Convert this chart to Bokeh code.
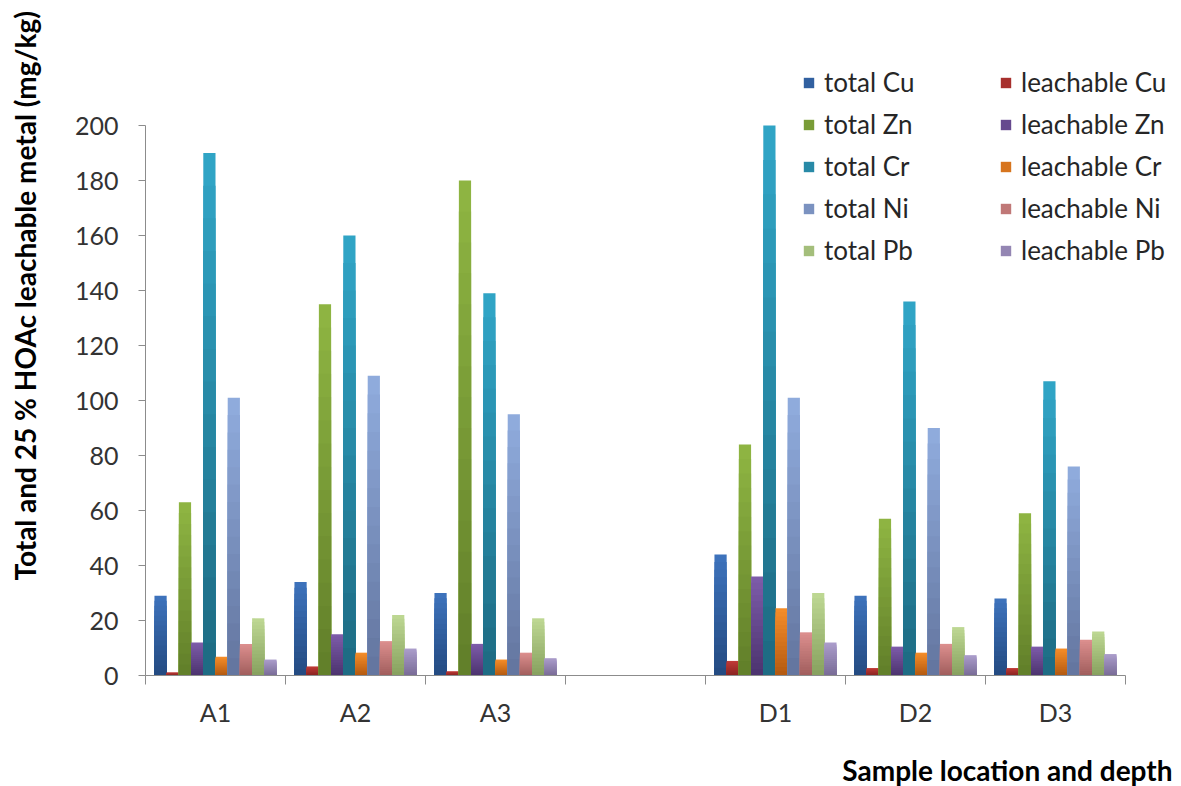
import math
from bokeh.plotting import figure
from bokeh.models import (Range1d, FixedTicker, Legend, LegendItem, Label,
                          ColumnDataSource)
from bokeh.embed import file_html
from bokeh.resources import INLINE

nan = float("nan")

samples = ["A1", "A2", "A3", "", "D1", "D2", "D3"]
series_names = ["total Cu", "leachable Cu", "total Zn", "leachable Zn",
                "total Cr", "leachable Cr", "total Ni", "leachable Ni",
                "total Pb", "leachable Pb"]

total_cu = [29, 34, 30, nan, 44, 29, 28]
leach_cu = [1.1, 3.3, 1.5, nan, 5.3, 2.7, 2.7]
total_zn = [63, 135, 180, nan, 84, 57, 59]
leach_zn = [12, 15, 11.5, nan, 36, 10.5, 10.5]
total_cr = [190, 160, 139, nan, 200, 136, 107]
leach_cr = [6.8, 8.3, 5.8, nan, 24.5, 8.3, 9.8]
total_ni = [101, 109, 95, nan, 101, 90, 76]
leach_ni = [11.5, 12.5, 8.3, nan, 15.7, 11.5, 13]
total_pb = [20.8, 22, 20.8, nan, 30, 17.6, 16]
leach_pb = [5.8, 9.8, 6.3, nan, 12, 7.4, 7.8]

series_values = [total_cu, leach_cu, total_zn, leach_zn, total_cr, leach_cr,
                 total_ni, leach_ni, total_pb, leach_pb]

top_colors = ["#3D72BB", "#C03B37", "#8EB442", "#7C5BA8", "#30A4C5",
              "#F48C28", "#8FABDC", "#DB8E8D", "#BDD792", "#AA9CCA"]
bottom_colors = ["#244B82", "#8A2422", "#62802A", "#4D3470", "#1E6C84",
                 "#B55B12", "#6476A0", "#A25F5E", "#88A260", "#7A6D98"]

y_ticks = list(range(0, 201, 20))
y_max = 200

FONT = "Lato"
N_SEG = 16
group_pad = 0.064
bar_w = 0.0872

# canvas layout (pixels)
W, H = 1181, 786
AX_LEFT, AX_RIGHT = 145, 1125      # category axis extent
AX_TOP, AX_BOTTOM = 125, 675       # value axis extent (200 .. 0)


def hex_rgb(h):
    h = h.lstrip("#")
    return tuple(int(h[i:i + 2], 16) for i in (0, 2, 4))


def mix(c1, c2, t):
    a, b = hex_rgb(c1), hex_rgb(c2)
    return "#%02x%02x%02x" % tuple(int(round(a[i] + (b[i] - a[i]) * t)) for i in range(3))


n_cat = len(samples)
px_x = (AX_RIGHT - AX_LEFT) / n_cat
px_y = (AX_BOTTOM - AX_TOP) / y_max
x_start = -AX_LEFT / px_x
x_end = n_cat + (W - AX_RIGHT) / px_x
y_start = -(H - AX_BOTTOM) / px_y
y_end = y_max + AX_TOP / px_y

p = figure(width=W, height=H, output_backend="svg", toolbar_location=None,
           x_range=Range1d(x_start, x_end), y_range=Range1d(y_start, y_end),
           min_border=0, min_border_left=0, min_border_right=0,
           min_border_top=0, min_border_bottom=0)
p.outline_line_color = None
p.xgrid.visible = False
p.ygrid.visible = False
p.background_fill_color = "white"
p.border_fill_color = "white"

AX = "#8c8c8c"
TICK_COL = "#333333"
# x axis
p.xaxis.fixed_location = 0
p.xaxis.bounds = (0, n_cat)
p.xaxis.ticker = FixedTicker(ticks=[i + 0.5 for i in range(n_cat)],
                             minor_ticks=list(range(n_cat + 1)))
p.xaxis.major_label_overrides = {i + 0.5: s for i, s in enumerate(samples)}
p.xaxis.major_tick_out = 0
p.xaxis.major_tick_in = 0
p.xaxis.minor_tick_out = 9
p.xaxis.minor_tick_in = 0
p.xaxis.minor_tick_line_color = AX
p.xaxis.axis_line_color = AX
p.xaxis.major_label_standoff = 12
p.xaxis.major_label_text_font = FONT
p.xaxis.major_label_text_font_size = "25px"
p.xaxis.major_label_text_color = TICK_COL

# y axis
p.yaxis.fixed_location = 0
p.yaxis.bounds = (0, y_max)
p.yaxis.ticker = FixedTicker(ticks=y_ticks)
p.yaxis.major_tick_out = 7
p.yaxis.major_tick_in = 0
p.yaxis.minor_tick_line_color = None
p.yaxis.major_tick_line_color = AX
p.yaxis.axis_line_color = AX
p.yaxis.major_label_standoff = 20
p.yaxis.major_label_text_font = FONT
p.yaxis.major_label_text_font_size = "25px"
p.yaxis.major_label_text_color = TICK_COL

renderers = []
for k, (name, vals) in enumerate(zip(series_names, series_values)):
    xs, tops, cols = [], [], []
    for g, v in enumerate(vals):
        if v != v:
            continue
        xc = g + group_pad + (k + 0.5) * bar_w
        for j in reversed(range(N_SEG)):
            xs.append(xc)
            tops.append(v * (j + 1) / N_SEG)
            cols.append(mix(bottom_colors[k], top_colors[k], j / (N_SEG - 1)))
    src = ColumnDataSource(dict(x=xs, top=tops, color=cols))
    r = p.vbar(x="x", top="top", bottom=0, width=bar_w, fill_color="color",
               line_color=None, source=src)
    renderers.append(r)

legend_index = N_SEG - 1 - N_SEG // 2


def make_legend(idxs, vx):
    items = [LegendItem(label=series_names[i], renderers=[renderers[i]],
                        index=legend_index) for i in idxs]
    lg = Legend(items=items, location=(vx, 520), orientation="vertical",
                border_line_color=None, background_fill_alpha=0,
                padding=0, margin=0, spacing=10, glyph_width=13,
                glyph_height=13, label_standoff=9, label_height=31,
                label_text_font=FONT, label_text_font_size="26px",
                label_text_color="#262626")
    p.add_layout(lg)


make_legend([0, 2, 4, 6, 8], 802)
make_legend([1, 3, 5, 7, 9], 999)

ytitle = Label(x=24, y=H - 580, x_units="screen", y_units="screen",
               text="Total and  25 % HOAc leachable metal (mg/kg)",
               angle=math.pi / 2, text_align="left",
               text_baseline="alphabetic", text_font=FONT,
               text_font_style="bold", text_font_size="28px",
               text_color="#000000")
xtitle = Label(x=1172, y=17, x_units="screen", y_units="screen",
               text="Sample location and depth", text_align="right",
               text_baseline="alphabetic", text_font=FONT,
               text_font_style="bold", text_font_size="28px",
               text_color="#000000")
p.add_layout(ytitle)
p.add_layout(xtitle)

open("out.html", "w").write(file_html(p, INLINE))
